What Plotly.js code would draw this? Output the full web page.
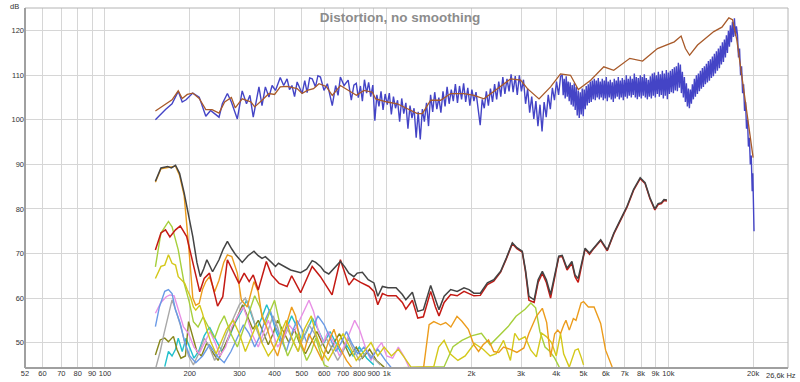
<!DOCTYPE html>
<html>
<head>
<meta charset="utf-8">
<script src="https://cdn.plot.ly/plotly-3.0.1.min.js"></script>
<style>html,body{margin:0;padding:0;background:#fff;}#chart{width:800px;height:382px;}</style>
</head>
<body>
<div id="chart"></div>
<script>
// ---- data: [frequency Hz, level dB] ----
const fundamentalRaw = [
[151,100],[158,101.4],[164,102.3],[173,103.6],[182,106.4],[188,104],[194,104.5],[205,106],[216,105.1],[228,100.8],[237,102.1],[254,100.6],[261,103.6],[272,105.9],[281,104],[295,100.2],[307,106.5],[318,103.6],[327,105.5],[336,100.6],[352,107.4],[361,103.2],[371,107.4],[382,105.1],[392,107.7],[403,106.6],[419,109.5],[431,107.7],[443,109.2],[452,106.8],[461,107.7],[471,105.2],[481,108.5],[501,105.9],[512,108.8],[522,106.1],[533,109.4],[544,109.2],[559,107.4],[570,109.9],[582,109.6],[599,106.6],[616,108.1],[641,103.2],[659,107.7],[672,105.5],[685,109.6],[706,107.7],[730,108.9],[749,104.4],[765,107.8],
[780,108.2],[793,105.0],[807,107.6],[820,104.2],[834,109.0],[849,106.0],[863,108.4],[878,105.2],[893,107.8],[908,99.8],[923,105.6],[939,103.0],[955,106.4],[971,102.2],[988,105.8],[1005,103.4],[1022,106.0],[1039,101.2],[1057,105.2],[1075,102.6],[1093,104.4],[1112,99.6],[1131,104.8],[1150,101.4],[1170,103.8],[1190,98.0],[1210,103.2],[1230,100.4],[1251,102.6],[1273,96.0],[1294,101.8],[1316,95.6],[1339,102.4],[1361,99.6],[1385,103.8],[1408,98.6],[1432,105.6],[1457,101.8],[1481,106.2],[1507,102.4],[1532,105.0],[1558,101.6],[1585,106.4],[1612,103.0],[1639,107.4],[1667,103.6],[1696,106.8],[1724,104.2],[1754,108.0],[1784,103.8],[1814,107.6],[1845,104.6],[1876,108.2],[1908,104.0],[1941,107.2],[1974,103.2],[2007,106.8],[2041,104.2],[2076,106.2],[2112,102.0],[2148,98.8],[2184,104.6],[2221,102.6],[2259,106.4],[2297,103.2],[2336,107.0],[2376,104.0],[2417,108.0],[2458,104.6],[2500,108.6],[2542,105.2],[2585,109.6],[2629,105.8],[2674,109.2],[2720,106.4],[2766,110.2],[2813,106.2],[2861,109.8],[2909,105.6],[2959,110.0],[3009,106.4],[3060,109.0],[3113,103.6],[3166,107.0],[3219,101.6],[3274,105.2],[3330,100.2],[3387,104.2],[3444,98.6],[3503,103.4],[3562,97.4],[3623,104.0],[3685,100.6],[3747,105.6],[3811,102.4],[3876,107.2],[3942,104.4],[4009,108.6],[4077,105.6],[4146,109.8],
[4200,110],[4234,105.5],[4269,109.2],[4304,104.8],[4340,109.8],[4375,105.2],[4411,108.6],[4447,104.2],[4484,108.4],[4521,103.4],[4558,107.8],[4595,103.0],[4633,108.2],[4671,102.2],[4710,107.4],[4749,101.0],[4788,106.6],[4827,100.4],[4867,106.2],[4907,101.2],[4947,107.0],[4988,100.8],[5029,106.8],[5070,102.4],[5112,107.6],[5154,103.2],[5196,108.0],[5239,103.8],[5282,108.6],[5325,104.0],[5369,108.8],[5413,104.6],[5458,109.2],[5503,104.4],[5548,108.8],[5594,105.0],[5640,109.4],[5686,104.6],[5733,108.6],[5780,105.0],[5828,109.2],[5876,104.4],[5924,108.8],[5973,104.8],[6022,109.6],[6071,104.2],[6121,108.6],[6171,105.0],[6222,109.0],[6273,104.6],[6325,108.4],[6377,104.0],[6429,109.2],[6482,104.8],[6535,108.8],[6589,105.2],[6643,109.6],[6698,104.6],[6753,108.8],[6808,105.0],[6864,109.4],[6921,104.4],[6978,109.0],[7035,105.2],[7093,110.0],[7151,104.8],[7210,109.2],[7269,105.4],[7329,109.8],[7389,105.0],[7450,109.2],[7511,105.6],[7573,110.4],[7635,105.0],[7698,109.6],[7761,104.6],[7825,109.4],[7889,105.2],[7954,110.0],[8019,104.8],[8085,109.6],[8152,105.4],[8219,110.2],[8286,105.0],[8354,109.4],[8423,104.6],[8492,109.0],[8562,105.2],[8632,109.8],[8703,104.8],[8775,110.4],[8847,105.4],[8920,110.6],[8993,105.0],[9067,110.0],[9142,105.8],[9217,110.8],[9293,105.2],[9369,110.2],[9446,105.6],[9523,111.0],[9601,104.8],[9680,110.4],[9760,105.4],[9840,111.2],[9921,104.6],[10003,110.6],[10085,105.8],[10168,111.0],[10251,106.2],[10335,111.4],[10420,106.0],[10506,111.8],[10592,106.6],[10679,112.0],[10767,106.4],[10855,112.8],[10945,107.2],[11035,112.4],[11126,106.0],[11217,110.8],[11309,105.0],[11402,109.6],[11496,104.0],[11590,108.2],[11685,103.0],[11781,107.0],[11878,102.6],[11976,106.8],[12074,103.6],[12173,108.0],[12273,104.6],[12374,109.2],[12476,105.2],[12578,110.0],[12682,105.8],[12786,110.4],[12891,106.4],[12997,111.0],[13104,107.0],[13211,111.6],[13320,107.4],[13429,112.0],[13540,108.0],[13651,112.6],[13763,108.4],[13876,113.2],[13990,108.8],[14105,113.6],[14221,109.4],[14338,114.2],[14456,109.8],[14574,114.8],[14694,110.4],[14815,115.4],[14937,111.0],[15059,116.0],[15183,111.6],[15308,116.6],[15434,112.4],[15560,117.4],[15688,113.0],[15817,118.0],[15947,114.0],[16078,119.0],[16210,115.0],[16343,120.0],[16478,116.4],[16613,121.2],[16750,117.4],[16887,122.0],[17026,118.6],[17165,122.8],[17307,118.8],[17449,121.0],
[17600,119],[17750,114],[17900,116],[18050,110],[18200,112],[18350,106],[18500,108],[18650,102],[18800,104],[18950,98],[19100,100],[19250,94],[19400,96],[19550,90],[19700,92],[19850,84],[19950,88],[20050,78],[20120,82],[20150,75]
];
const fundamentalSmooth = [
[151,102],[160,103],[173,104.5],[182,106.5],[188,104.8],[196,105.7],[205,106],[216,104.8],[228,102.3],[240,102.3],[254,101.5],[266,104],[281,105],[290,102.7],[307,104.7],[330,104],[340,102.9],[361,104.4],[382,105.9],[400,105.7],[419,107.4],[443,107.5],[481,107],[501,105.9],[522,106.6],[550,107],[575,108.1],[610,107.5],[641,105.5],[685,107.7],[730,106.6],[781,105.5],[831,106.6],[890,106.2],[914,104.7],[1005,104],[1091,103.6],[1185,102.5],[1285,101.4],[1339,101.4],[1433,104.4],[1555,104.4],[1688,105.9],[1882,105.9],[2042,105.5],[2215,104.7],[2471,107],[2757,109.2],[2990,108.9],[3161,107],[3475,104.7],[3819,107.4],[4142,110.3],[4495,110],[4790,106.8],[5300,108.9],[5900,111.9],[6400,111.1],[7300,113.8],[8100,113.2],[9150,116],[9900,116.8],[10500,117.5],[11100,118.8],[11500,116],[11900,114.5],[12700,116.8],[14500,119.8],[15500,120.8],[16400,122.9],[16900,122.5],[17500,118],[18200,110],[19000,102],[19600,96],[20000,91.5]
];
const thd = [
[151,86.2],[158,89.2],[167,89.5],[172,89.2],[178,89.8],[184,88],[191,83.6],[198,79],[205,73.8],[212,68],[218,64.8],[224,66.5],[230,68.6],[241,65.9],[254,68.6],[263,71],[272,72.7],[282,71],[291,69.7],[307,68],[322,69.5],[338,70.5],[350,69.5],[361,68.9],[371,69.3],[390,68],[403,67.1],[413,67.8],[435,67],[456,66.3],[495,65.7],[520,66.5],[544,68.4],[560,68],[582,67.1],[600,66],[623,65.4],[645,66.5],[685,68.2],[710,67],[734,65.6],[765,64.8],[786,65.6],[820,65.8],[860,64.1],[901,63.4],[930,60.4],[966,62.6],[1010,62.3],[1080,62.3],[1137,60.8],[1170,59.6],[1234,61.3],[1290,57],[1350,57.4],[1433,62.8],[1490,59.6],[1534,57.4],[1600,60.4],[1688,61.9],[1780,61.5],[1882,62.3],[1960,61.9],[2040,61.1],[2150,61.1],[2278,63.4],[2400,64.1],[2539,66],[2660,69],[2794,72.4],[2900,71.3],[3030,70.5],[3110,66.4],[3200,60.4],[3339,59.6],[3450,64.1],[3570,66],[3690,64.1],[3819,60.8],[3950,64.9],[4083,69.4],[4200,69.6],[4370,66.7],[4547,68.2],[4664,65.2],[4786,64.4],[4900,67.1],[5063,71.2],[5250,70.1],[5450,71.4],[5752,73.1],[6070,70.8],[6406,74.6],[6761,77.6],[7135,80.6],[7530,84.4],[7946,87],[8270,85.9],[8606,82.5],[8957,80],[9200,81.2],[9450,81.4],[9650,82.1],[9890,82]
];
const h2 = [
[151,70.8],[158,74.6],[164,75.3],[170,73.7],[178,75.3],[185,76.2],[195,73.8],[207,67.1],[217,61.4],[225,64.4],[235,65.6],[251,58.2],[262,60.3],[272,68.6],[287,65.6],[299,63.3],[312,65.6],[325,63.7],[336,65.2],[350,61.8],[374,68.2],[390,65.2],[415,63.3],[443,62.6],[460,65],[495,61.2],[544,67.1],[582,64.8],[640,60.7],[685,68.6],[734,62.9],[765,64.4],[808,63.5],[865,62.6],[901,61.5],[930,58.5],[966,61],[1010,60.5],[1080,60.5],[1137,59],[1170,57.5],[1234,59.5],[1290,55.5],[1350,55.8],[1433,61.5],[1490,58],[1534,56],[1600,59],[1688,60.8],[1780,60.5],[1882,61.5],[1960,61],[2040,60.5],[2150,60.6],[2278,63],[2400,63.8],[2539,65.8],[2660,68.8],[2794,72.2],[2900,71.1],[3030,70.3],[3110,66],[3200,59.5],[3339,59],[3450,63.5],[3570,65.5],[3690,63.5],[3819,60],[3950,64.5],[4083,69.2],[4200,69.3],[4370,66.3],[4547,67.8],[4664,64.8],[4786,63.5],[4900,66.8],[5063,71],[5250,69.8],[5450,71.2],[5752,72.9],[6070,70.6],[6406,74.4],[6761,77.4],[7135,80.4],[7530,84.2],[7946,86.8],[8270,85.7],[8606,82.3],[8957,79.8],[9200,81],[9450,81.2],[9650,81.9],[9890,81.8]
];
const h3 = [
[151,86],[158,89],[167,89.3],[178,89.6],[184,87.5],[191,83],[198,72],[205,60],[210,58.4],[216,58.8],[222,62],[228,63.7],[235,64.8],[245,61.4],[254,64],[264,68],[272,69.7],[282,69.3],[295,65.6],[305,59.5],[320,58],[338,63.7],[350,61.4],[361,55.8],[375,53.5],[390,50],[410,47],[430,52],[445,55],[460,58],[475,56],[490,51],[510,48],[530,52],[560,49],[590,46],[620,50],[650,53],[680,49],[720,46],[760,44],
[1350,44],[1415,54],[1470,54.7],[1555,54],[1620,54.5],[1690,53.5],[1777,55.9],[1850,54.8],[1950,53],[2040,49.5],[2120,48],[2200,49.5],[2300,50.6],[2400,48],[2500,47.8],[2600,49],[2750,48.5],[2900,47.8],[3070,48.8],[3200,52.1],[3400,55.9],[3570,57.7],[3700,54.5],[3819,46.8],[3950,52],[4050,52.8],[4142,52],[4250,53.9],[4330,55],[4450,52.8],[4600,55.4],[4700,55],[4800,57],[4900,58.9],[5000,59.2],[5200,58],[5450,58],[5752,54.3],[5989,48.3],[6318,44.5]
];
const h4 = [
[151,64.4],[158,67.1],[163,67.4],[168,69.7],[173,67.8],[178,67.4],[182,64.8],[187,64.1],[192,63.3],[196,61.8],[201,60.3],[206,58],[210,57.3],[217,58.4],[222,56.5],[230,52.8],[238,50],[248,47.5],[258,50],[270,53],[285,55],[300,52],[315,48],[330,51],[345,54],[360,50],[380,47],[400,49],[420,52],[440,55],[460,51],[485,48],[510,53],[540,56],[560,52],[590,48],[620,46],[660,49],[700,52],[740,49],[780,46],[830,48],[880,50],[930,47],[980,49],[1040,47],[1100,48.5],[1160,46.5],[1220,44.5],
[1470,44.6],[1530,49],[1600,50.5],[1680,47.5],[1790,46],[1900,47],[2050,49.8],[2200,48.5],[2330,47],[2450,47.5],[2600,50.5],[2750,46],[2850,52.1],[2950,50.6],[3100,51.3],[3250,48.3],[3400,46.8],[3550,52.1],[3700,51.3],[3850,50],[4000,47],[4142,52],[4250,47.5],[4450,44.5],[4664,48.3],[4786,48.6],[4900,46.8],[5000,45]
];
const h5 = [
[151,67],[158,74.6],[168,77.2],[173,76],[182,70.8],[191,63.3],[199,59.2],[206,54.7],[214,53.5],[223,55.8],[233,53.5],[245,51],[255,54],[265,56],[280,52],[295,49],[310,53],[325,57],[340,60.5],[355,58],[370,54],[385,57],[400,59.5],[415,55],[430,50],[445,47],[460,49],[480,52],[500,49],[520,46],[540,48],[560,51],[580,48],[600,45],[640,44],
[1600,44.6],[1720,49.1],[1850,50.5],[2000,51.5],[2170,52.1],[2330,49.5],[2539,52],[2700,53.6],[2880,55.9],[3100,57.5],[3250,58.9],[3380,57.8],[3500,52.5],[3650,49],[3800,48],[3950,46.5],[4100,44.5]
];
const h6 = [
[151,53.6],[156,58],[163,61.5],[168,61.9],[173,61],[178,57.3],[185,54.3],[192,50],[200,47],[210,45.5],[222,47],[235,49.5],[250,47],[265,45.5],[280,48],[295,51],[310,54],[325,52],[340,49],[355,51.5],[370,55],[385,57.5],[400,54],[420,51],[440,48],[460,52],[480,55],[500,53],[520,50],[545,53],[570,56],[600,54],[630,51],[660,48],[690,50],[720,52.5],[750,50],[790,47.5],[830,49],[880,46.5],[930,48.5],[990,46],[1050,44]
];
const h7 = [
[151,56.6],[158,59],[165,60.3],[170,60.7],[176,60.5],[183,57],[190,53.5],[198,52],[207,49],[216,47.5],[226,50],[236,52.5],[246,50],[256,47],[268,49],[282,53.5],[296,56],[310,58],[322,55],[335,51.5],[350,49],[365,52],[380,55],[395,52],[410,49],[430,51],[450,54],[470,52.5],[490,55],[510,57.5],[530,59.5],[550,57],[570,53],[595,50],[620,52.5],[650,50],[680,47],[710,49.5],[740,52.5],[770,55],[800,53],[840,49],[880,46],[920,48.5],[960,50],[1000,47],[1050,46.5],[1100,49],[1150,47],[1200,44.5]
];
const h8 = [
[151,44],[157,48],[162,52],[168,55.9],[173,59.6],[180,56.5],[186,53.5],[192,50],[198,47],[206,45],[215,47.5],[225,51],[235,49],[245,46],[258,48.5],[270,52],[285,55.5],[300,58.5],[315,60],[330,57],[345,53],[360,50],[378,52.5],[395,56],[410,53.5],[425,50],[445,53],[465,50.5],[485,48],[505,51],[530,54],[555,52],[580,49],[610,51],[640,48.5],[670,46],[700,48],[730,51],[760,48.5],[800,46],[850,48],[900,46.5],[950,45]
];
const h9 = [
[151,47.2],[157,50.6],[163,51],[168,50.2],[175,51.4],[180,48.5],[186,46.5],[193,47],[198,54.7],[204,52],[212,48],[220,47],[230,50],[240,48],[252,46],[265,49],[280,52.5],[295,56],[308,58.5],[320,56],[335,53],[350,55],[365,52],[380,49.5],[395,52],[410,55],[430,52.5],[450,50],[470,53],[490,50],[515,47.5],[540,50],[565,52.5],[590,50],[620,47.5],[650,50],[680,52],[710,49.5],[740,47],[780,49],[820,46.5],[870,48.5],[920,46],[980,44.5]
];
const h10 = [
[163,44.6],[168,48],[173,47],[178,48.5],[182,51],[188,48],[194,51],[200,49],[207,46.5],[215,48],[225,51.5],[235,53.5],[248,50.5],[260,48],[275,51],[290,54.5],[305,57],[318,59.5],[330,56.5],[345,53],[360,55.5],[375,58.5],[390,56],[405,52.5],[420,50],[440,53],[460,56],[480,53.5],[500,50.5],[520,52.5],[545,55.5],[570,53],[600,50],[630,52.5],[660,50],[690,47.5],[720,49.5],[760,47],[800,49],[850,46.5],[900,45]
];

const xTickVals = [52,60,70,80,90,100,200,300,400,500,600,700,800,900,1000,2000,3000,4000,5000,6000,7000,8000,9000,10000,20000];
const xTickText = ['52','60','70','80','90','100','200','300','400','500','600','700','800','900','1k','2k','3k','4k','5k','6k','7k','8k','9k','10k','20k'];
const yTickVals = [50,60,70,80,90,100,110,120];

// ---- build ----
function tr(pairs, color, width){
  return {x:pairs.map(p=>p[0]), y:pairs.map(p=>p[1]), type:'scatter', mode:'lines',
          line:{color:color, width:width}, hoverinfo:'skip'};
}
const traces = [
  tr(h10,'#22c0cc',1.4),
  tr(h9,'#86861a',1.4),
  tr(h8,'#a8a8a8',1.4),
  tr(h7,'#e890e6',1.4),
  tr(h6,'#6a9ae6',1.4),
  tr(h5,'#a6cf3c',1.4),
  tr(h4,'#d4c81a',1.4),
  tr(h3,'#ec9c1c',1.4),
  tr(h2,'#c41a14',1.5),
  tr(thd,'#444444',1.5),
  tr(fundamentalRaw,'#4444c6',1.4),
  tr(fundamentalSmooth,'#a85a2a',1.3)
];

const font = 'Liberation Sans, Arial, sans-serif';
const tickFont = {family:font, size:7.5, color:'#333333'};
const layout = {
  width:800, height:382,
  margin:{l:25, r:12, t:8, b:14, pad:0},
  paper_bgcolor:'#ffffff', plot_bgcolor:'#ffffff',
  showlegend:false,
  font:{family:font, size:8, color:'#333333'},
  title:{text:'<b>Distortion, no smoothing</b>', font:{family:font, size:13.5, color:'#8c8c8c'},
         x:0.5, xanchor:'center', xref:'container', y:1-17/382, yanchor:'middle', yref:'container'},
  xaxis:{type:'log', range:[Math.log10(52), Math.log10(26600)], tickvals:xTickVals, ticktext:xTickText,
         tickangle:0, showgrid:true, gridcolor:'#d6d6d6', gridwidth:1, zeroline:false, showline:false, ticks:'',
         ticklabelstandoff:-1, tickfont:tickFont, fixedrange:true, automargin:false},
  yaxis:{range:[44.3,125.1], tickvals:yTickVals, showgrid:true, gridcolor:'#d6d6d6', gridwidth:1,
         zeroline:false, showline:false, ticks:'', tickfont:tickFont, fixedrange:true, automargin:false},
  shapes:[
    {type:'rect', xref:'paper', yref:'paper', x0:0, x1:1, y0:0, y1:1, line:{color:'#b4b4b4', width:1}},
    {type:'line', xref:'paper', yref:'paper', x0:0, x1:0, y0:0, y1:1, line:{color:'#a0a0a0', width:2}},
    {type:'line', xref:'paper', yref:'paper', x0:0, x1:1, y0:0, y1:0, line:{color:'#a0a0a0', width:2}}
  ],
  annotations:[
    {text:'dB', xref:'paper', yref:'paper', x:0, y:1, xanchor:'right', yanchor:'top', xshift:-4, yshift:8,
     showarrow:false, font:{family:font, size:7.5, color:'#333333'}},
    {text:'26,6k Hz', xref:'paper', yref:'paper', x:1, y:0, xanchor:'right', yanchor:'top', xshift:10, yshift:-1,
     showarrow:false, font:tickFont}
  ]
};
Plotly.newPlot('chart', traces, layout, {displayModeBar:false, staticPlot:true});
</script>
</body>
</html>
